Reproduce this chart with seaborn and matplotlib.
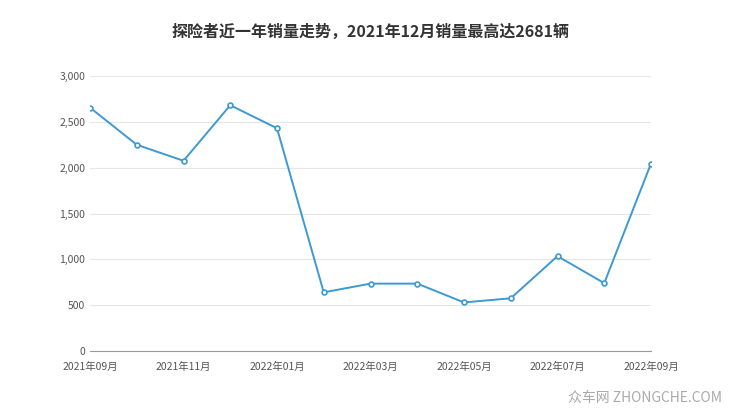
import matplotlib
matplotlib.use('Agg')
import matplotlib.pyplot as plt
import seaborn as sns
import pandas as pd

months = ['2021年09月', '2021年10月', '2021年11月', '2021年12月', '2022年01月', '2022年02月',
          '2022年03月', '2022年04月', '2022年05月', '2022年06月', '2022年07月', '2022年08月', '2022年09月']
sales = [2655, 2250, 2075, 2681, 2430, 640, 735, 735, 530, 575, 1035, 740, 2045]

df = pd.DataFrame({'idx': range(len(months)), 'sales': sales})

sns.set_style('white')
plt.rcParams['font.family'] = ['Noto Sans CJK SC', 'DejaVu Sans']

fig = plt.figure(figsize=(7.4, 4.17), dpi=100)
ax = fig.add_axes([90 / 740, 1 - 351 / 417, 561 / 740, 275 / 417])
color = '#3d9ad1'
sns.lineplot(data=df, x='idx', y='sales', ax=ax, color=color, linewidth=1.4,
             marker='o', markersize=3.5, markerfacecolor='white', markeredgecolor=color,
             markeredgewidth=1.2)

ax.set_xlim(0, len(months) - 1)
ax.set_ylim(0, 3000)
ax.set_yticks(range(0, 3001, 500))
ax.set_yticklabels([f'{v:,}' for v in range(0, 3001, 500)])
ax.set_xticks(range(0, len(months), 2))
ax.set_xticklabels(months[::2])
ax.tick_params(axis='both', labelsize=7.5, colors='#555555', length=4)
ax.tick_params(axis='y', length=0)
ax.tick_params(axis='x', color='#999999')
ax.grid(axis='y', color='#e6e6e6', linewidth=0.8)
for s in ['top', 'right', 'left']:
    ax.spines[s].set_visible(False)
ax.spines['bottom'].set_color('#999999')
ax.set_xlabel('')
ax.set_ylabel('')

fig.text(0.5, 1 - 32 / 417, '探险者近一年销量走势，2021年12月销量最高达2681辆',
         ha='center', va='center', fontsize=11.5, fontweight='bold', color='#333333')
fig.text(0.975, 1 - 398 / 417, '众车网 ZHONGCHE.COM', ha='right', va='center',
         fontsize=10, color='#aaaaaa')

fig.savefig('out.png', dpi=100)
